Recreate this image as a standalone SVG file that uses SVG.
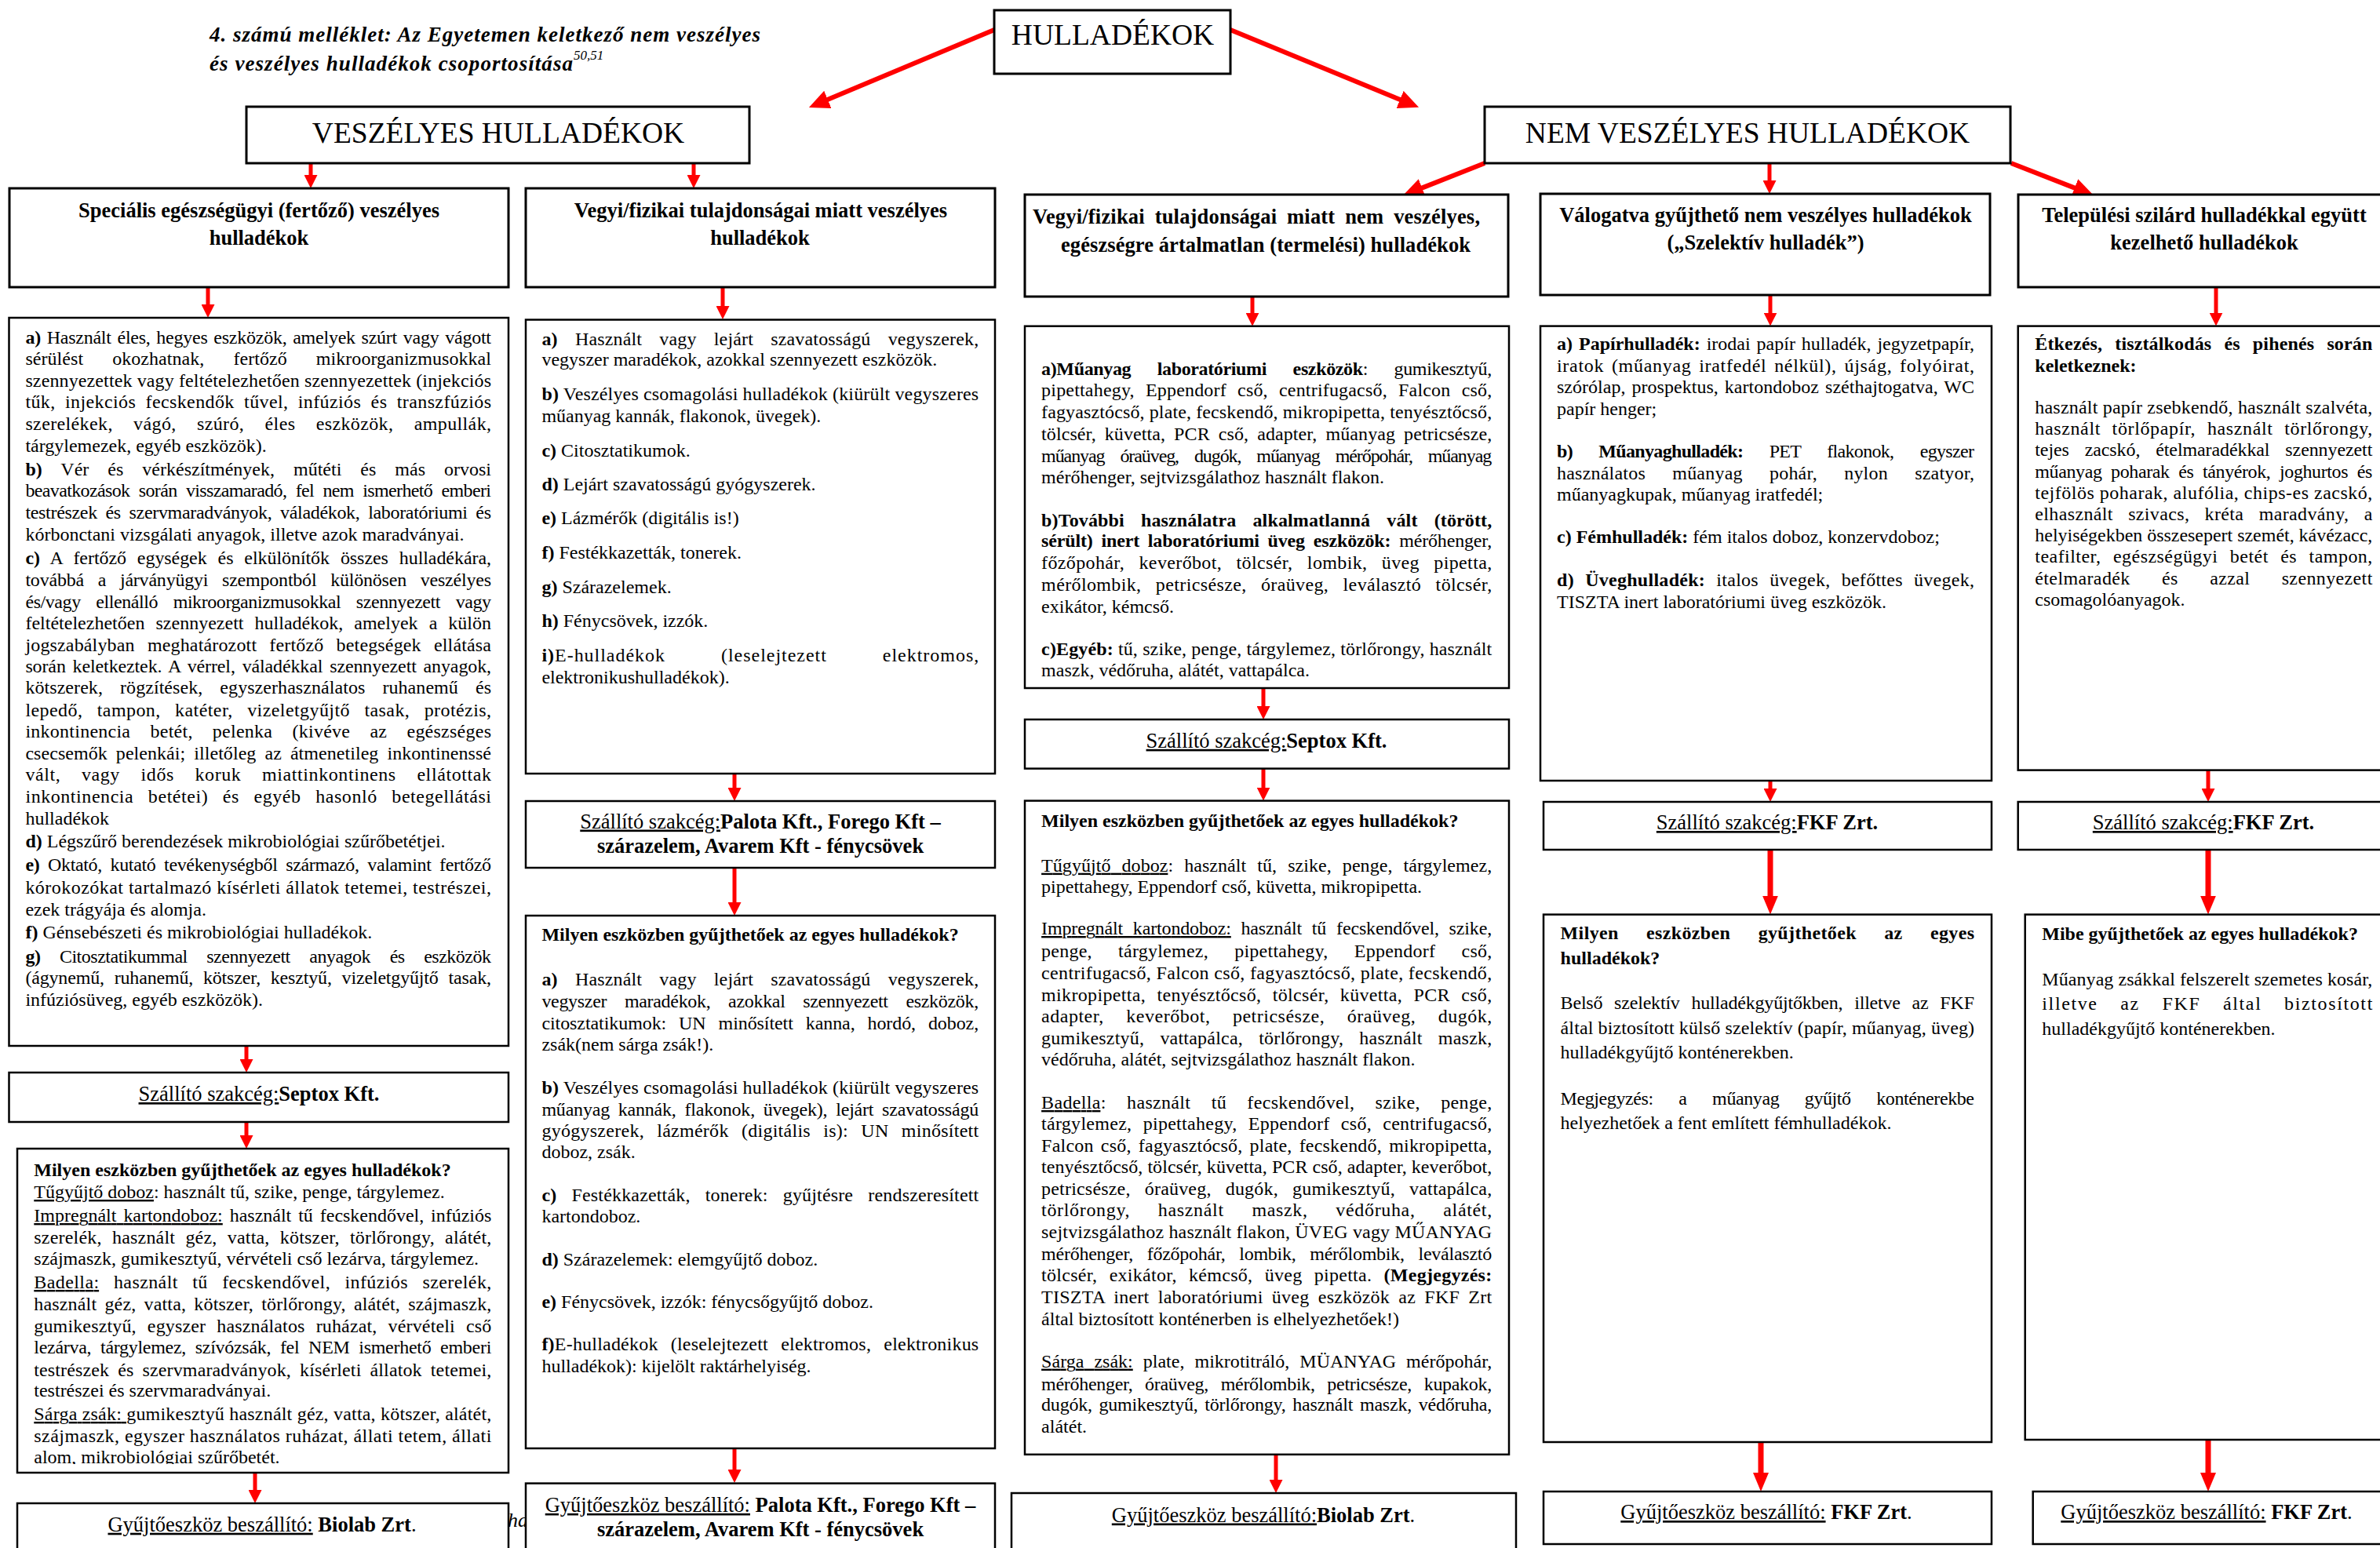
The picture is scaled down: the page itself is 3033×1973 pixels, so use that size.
<svg xmlns="http://www.w3.org/2000/svg" width="3033" height="1973" viewBox="0 0 3033 1973">
<style>
text{font-family:'Liberation Serif','Times New Roman',serif;font-size:24px;fill:#000}
.b{font-weight:bold}
.u{text-decoration:underline}
.m{text-anchor:middle}
.h1{font-size:37.5px}
.h2{font-size:26.5px;font-weight:bold}
.s{font-size:26.5px}
.ti{font-size:27px;font-weight:bold;font-style:italic}
rect.n{fill:#fff;stroke:#000;stroke-width:2.5}
rect.k{fill:#fff;stroke:#000;stroke-width:3}
.c line{stroke:#f00;fill:none}
.c1{stroke-width:5;marker-end:url(#ah)}
.c2{stroke-width:7;marker-end:url(#ahT)}
.c3{stroke-width:6;marker-end:url(#ahL)}
</style>
<defs>
<marker id="ah" markerUnits="userSpaceOnUse" markerWidth="17" markerHeight="17" refX="2" refY="8.5" orient="auto"><path d="M0,0 L17,8.5 L0,17 z" fill="#f00"/></marker>
<marker id="ahT" markerUnits="userSpaceOnUse" markerWidth="24" markerHeight="20" refX="3" refY="10" orient="auto"><path d="M0,0 L24,10 L0,20 z" fill="#f00"/></marker>
<marker id="ahL" markerUnits="userSpaceOnUse" markerWidth="26" markerHeight="24" refX="3" refY="12" orient="auto"><path d="M0,0 L26,12 L0,24 z" fill="#f00"/></marker>
<clipPath id="cm1"><rect x="0" y="1440" width="700" height="426"/></clipPath>
</defs>
<rect width="3033" height="1973" fill="#fff"/>

<g id="title">
<text class="ti" x="267" y="53" textLength="702" lengthAdjust="spacing">4. számú melléklet: Az Egyetemen keletkező nem veszélyes</text>
<text class="ti" x="267" y="90" textLength="463" lengthAdjust="spacing">és veszélyes hulladékok csoportosítása</text>
<text x="731" y="76" style="font-size:17px;font-style:italic">50,51</text>
</g>
<text x="647" y="1946" style="font-size:26px;font-style:italic">ha</text>

<g id="connectors" class="c">
<line class="c3" x1="1267" y1="38" x2="1052.1" y2="128"/>
<line class="c3" x1="1568" y1="38" x2="1786.8" y2="128.1"/>
<line class="c3" x1="1892" y1="208" x2="1809.4" y2="240.6"/>
<line class="c3" x1="2563" y1="208" x2="2646.6" y2="240.6"/>
<line class="c1" x1="396" y1="208" x2="396" y2="225"/>
<line class="c1" x1="884" y1="208" x2="884" y2="225"/>
<line class="c1" x1="2255" y1="208" x2="2255" y2="232"/>
<line class="c1" x1="265" y1="366" x2="265" y2="390"/>
<line class="c1" x1="314" y1="1333" x2="314" y2="1352"/>
<line class="c1" x1="314" y1="1430" x2="314" y2="1449"/>
<line class="c1" x1="325" y1="1877" x2="325" y2="1901"/>
<line class="c1" x1="921" y1="366" x2="921" y2="392"/>
<line class="c1" x1="936" y1="986" x2="936" y2="1006"/>
<line class="c1" x1="936" y1="1106" x2="936" y2="1152"/>
<line class="c1" x1="936" y1="1846" x2="936" y2="1875"/>
<line class="c1" x1="1596" y1="378" x2="1596" y2="400.7"/>
<line class="c1" x1="1610" y1="877" x2="1610" y2="902"/>
<line class="c1" x1="1610" y1="980" x2="1610" y2="1005.6"/>
<line class="c1" x1="1626" y1="1854" x2="1626" y2="1888"/>
<line class="c1" x1="2256" y1="376" x2="2256" y2="400.6"/>
<line class="c1" x1="2256" y1="995" x2="2256" y2="1007"/>
<line class="c2" x1="2256" y1="1083" x2="2256" y2="1144.6"/>
<line class="c2" x1="2244" y1="1838" x2="2244" y2="1880"/>
<line class="c1" x1="2824" y1="366" x2="2824" y2="400.6"/>
<line class="c1" x1="2814" y1="982" x2="2814" y2="1007"/>
<line class="c2" x1="2814" y1="1083" x2="2814" y2="1144.6"/>
<line class="c2" x1="2814" y1="1835" x2="2814" y2="1880"/>
</g>

<g id="hulladekok">
<rect class="k" x="1267" y="13" width="301" height="81"/>
<text class="h1 m" x="1418" y="57">HULLADÉKOK</text>
</g>
<g id="veszelyes">
<rect class="k" x="314" y="136" width="641" height="72"/>
<text class="h1 m" x="635" y="182">VESZÉLYES HULLADÉKOK</text>
</g>
<g id="nem-veszelyes">
<rect class="k" x="1892" y="136" width="670" height="72"/>
<text class="h1 m" x="2227" y="182">NEM VESZÉLYES HULLADÉKOK</text>
</g>

<g id="specialis">
<rect class="k" x="12" y="240" width="636" height="126"/>
<text class="h2 m" x="330" y="277">Speciális egészségügyi (fertőző) veszélyes</text>
<text class="h2 m" x="330" y="312">hulladékok</text>
</g>
<g id="vegyi-veszelyes">
<rect class="k" x="670" y="240" width="598" height="126"/>
<text class="h2 m" x="969.5" y="277">Vegyi/fizikai tulajdonságai miatt veszélyes</text>
<text class="h2 m" x="968.5" y="312">hulladékok</text>
</g>
<g id="vegyi-nem-veszelyes">
<rect class="k" x="1306" y="248" width="616" height="130"/>
<text class="h2" x="1316" y="285" textLength="570" lengthAdjust="spacing" style="word-spacing:6px">Vegyi/fizikai tulajdonságai miatt nem veszélyes,</text>
<text class="h2" x="1352" y="321" textLength="522" lengthAdjust="spacing">egészségre ártalmatlan (termelési) hulladékok</text>
</g>
<g id="valogatva">
<rect class="k" x="1963" y="247" width="573" height="129"/>
<text class="h2 m" x="2250" y="283">Válogatva gyűjthető nem veszélyes hulladékok</text>
<text class="h2 m" x="2250" y="318">(„Szelektív hulladék”)</text>
</g>
<g id="telepulesi">
<rect class="k" x="2572" y="248" width="470" height="118"/>
<text class="h2 m" x="2809" y="283">Települési szilárd hulladékkal együtt</text>
<text class="h2 m" x="2809" y="318">kezelhető hulladékok</text>
</g>

<g id="col1-tartalom">
<rect class="n" x="11.5" y="405" width="636.5" height="928"/>
<text x="32.4" y="437.6" textLength="593.6" lengthAdjust="spacing" style="word-spacing:2px"><tspan class="b">a)</tspan> Használt éles, hegyes eszközök, amelyek szúrt vagy vágott</text>
<text x="32.4" y="464.9" textLength="593.6" lengthAdjust="spacing" style="word-spacing:31px">sérülést okozhatnak, fertőző mikroorganizmusokkal</text>
<text x="32.4" y="492.6" textLength="593.6" lengthAdjust="spacing">szennyezettek vagy feltételezhetően szennyezettek (injekciós</text>
<text x="32.4" y="520.3" textLength="593.6" lengthAdjust="spacing" style="word-spacing:6px">tűk, injekciós fecskendők tűvel, infúziós és transzfúziós</text>
<text x="32.4" y="547.9" textLength="593.6" lengthAdjust="spacing" style="word-spacing:20px">szerelékek, vágó, szúró, éles eszközök, ampullák,</text>
<text x="32.4" y="575.6">tárgylemezek, egyéb eszközök).</text>
<text x="32.4" y="605.7" textLength="593.6" lengthAdjust="spacing" style="word-spacing:18px"><tspan class="b">b)</tspan> Vér és vérkészítmények, műtéti és más orvosi</text>
<text x="32.4" y="633" textLength="593.6" lengthAdjust="spacing" style="word-spacing:6px">beavatkozások során visszamaradó, fel nem ismerhető emberi</text>
<text x="32.4" y="660.6" textLength="593.6" lengthAdjust="spacing" style="word-spacing:5px">testrészek és szervmaradványok, váladékok, laboratóriumi és</text>
<text x="32.4" y="688.7">kórbonctani vizsgálati anyagok, illetve azok maradványai.</text>
<text x="32.4" y="719.1" textLength="593.6" lengthAdjust="spacing" style="word-spacing:8px"><tspan class="b">c)</tspan> A fertőző egységek és elkülönítők összes hulladékára,</text>
<text x="32.4" y="746.8" textLength="593.6" lengthAdjust="spacing" style="word-spacing:12px">továbbá a járványügyi szempontból különösen veszélyes</text>
<text x="32.4" y="774.5" textLength="593.6" lengthAdjust="spacing" style="word-spacing:14px">és/vagy ellenálló mikroorganizmusokkal szennyezett vagy</text>
<text x="32.4" y="802.2" textLength="593.6" lengthAdjust="spacing" style="word-spacing:8px">feltételezhetően szennyezett hulladékok, amelyek a külön</text>
<text x="32.4" y="829.9" textLength="593.6" lengthAdjust="spacing" style="word-spacing:10px">jogszabályban meghatározott fertőző betegségek ellátása</text>
<text x="32.4" y="856.8" textLength="593.6" lengthAdjust="spacing" style="word-spacing:3px">során keletkeztek. A vérrel, váladékkal szennyezett anyagok,</text>
<text x="32.4" y="884.4" textLength="593.6" lengthAdjust="spacing" style="word-spacing:16px">kötszerek, rögzítések, egyszerhasználatos ruhanemű és</text>
<text x="32.4" y="912.9" textLength="593.6" lengthAdjust="spacing" style="word-spacing:12px">lepedő, tampon, katéter, vizeletgyűjtő tasak, protézis,</text>
<text x="32.4" y="939.8" textLength="593.6" lengthAdjust="spacing" style="word-spacing:19px">inkontinencia betét, pelenka (kivéve az egészséges</text>
<text x="32.4" y="967.5" textLength="593.6" lengthAdjust="spacing" style="word-spacing:5px">csecsemők pelenkái; illetőleg az átmenetileg inkontinenssé</text>
<text x="32.4" y="995.2" textLength="593.6" lengthAdjust="spacing" style="word-spacing:20px">vált, vagy idős koruk miattinkontinens ellátottak</text>
<text x="32.4" y="1022.9" textLength="593.6" lengthAdjust="spacing" style="word-spacing:12px">inkontinencia betétei) és egyéb hasonló betegellátási</text>
<text x="32.4" y="1050.6">hulladékok</text>
<text x="32.4" y="1080.3"><tspan class="b">d)</tspan> Légszűrő berendezések mikrobiológiai szűrőbetétjei.</text>
<text x="32.4" y="1110.3" textLength="593.6" lengthAdjust="spacing" style="word-spacing:5px"><tspan class="b">e)</tspan> Oktató, kutató tevékenységből származó, valamint fertőző</text>
<text x="32.4" y="1138.7" textLength="593.6" lengthAdjust="spacing">kórokozókat tartalmazó kísérleti állatok tetemei, testrészei,</text>
<text x="32.4" y="1167">ezek trágyája és alomja.</text>
<text x="32.4" y="1196.3"><tspan class="b">f)</tspan> Génsebészeti és mikrobiológiai hulladékok.</text>
<text x="32.4" y="1227" textLength="593.6" lengthAdjust="spacing" style="word-spacing:19px"><tspan class="b">g)</tspan> Citosztatikummal szennyezett anyagok és eszközök</text>
<text x="32.4" y="1254.3" textLength="593.6" lengthAdjust="spacing" style="word-spacing:7px">(ágynemű, ruhanemű, kötszer, kesztyű, vizeletgyűjtő tasak,</text>
<text x="32.4" y="1282">infúziósüveg, egyéb eszközök).</text>
</g>
<g id="col1-szallito">
<rect class="n" x="11.5" y="1367" width="636.5" height="63"/>
<text class="s m" x="330" y="1403"><tspan class="u">Szállító szakcég:</tspan><tspan class="b">Septox Kft.</tspan></text>
</g>
<g id="col1-milyen">
<rect class="n" x="22" y="1464" width="626" height="413"/>
<text class="b" x="43.3" y="1498.7">Milyen eszközben gyűjthetőek az egyes hulladékok?</text>
<text x="43.3" y="1527"><tspan class="u">Tűgyűjtő doboz</tspan>: használt tű, szike, penge, tárgylemez.</text>
<text x="43.3" y="1557" textLength="583" lengthAdjust="spacing" style="word-spacing:3px"><tspan class="u">Impregnált kartondoboz:</tspan> használt tű fecskendővel, infúziós</text>
<text x="43.3" y="1584.7" textLength="583" lengthAdjust="spacing" style="word-spacing:7px">szerelék, használt géz, vatta, kötszer, törlőrongy, alátét,</text>
<text x="43.3" y="1612">szájmaszk, gumikesztyű, vérvételi cső lezárva, tárgylemez.</text>
<text x="43.3" y="1642" textLength="583" lengthAdjust="spacing" style="word-spacing:12px"><tspan class="u">Badella:</tspan> használt tű fecskendővel, infúziós szerelék,</text>
<text x="43.3" y="1670" textLength="583" lengthAdjust="spacing" style="word-spacing:4px">használt géz, vatta, kötszer, törlőrongy, alátét, szájmaszk,</text>
<text x="43.3" y="1698" textLength="583" lengthAdjust="spacing" style="word-spacing:8px">gumikesztyű, egyszer használatos ruházat, vérvételi cső</text>
<text x="43.3" y="1725" textLength="583" lengthAdjust="spacing" style="word-spacing:6px">lezárva, tárgylemez, szívózsák, fel NEM ismerhető emberi</text>
<text x="43.3" y="1754" textLength="583" lengthAdjust="spacing" style="word-spacing:5px">testrészek és szervmaradványok, kísérleti állatok tetemei,</text>
<text x="43.3" y="1780">testrészei és szervmaradványai.</text>
<text x="43.3" y="1810" textLength="583" lengthAdjust="spacing"><tspan class="u">Sárga zsák: </tspan>gumikesztyű használt géz, vatta, kötszer, alátét,</text>
<text x="43.3" y="1838" textLength="583" lengthAdjust="spacing">szájmaszk, egyszer használatos ruházat, állati tetem, állati</text>
<text x="43.3" y="1865" clip-path="url(#cm1)">alom, mikrobiológiai szűrőbetét.</text>
</g>
<g id="col1-gyujto">
<rect class="n" x="22" y="1916" width="626" height="80"/>
<text class="s m" x="334" y="1951.7"><tspan class="u">Gyűjtőeszköz beszállító:</tspan> <tspan class="b">Biolab Zrt</tspan>.</text>
</g>

<g id="col2-tartalom">
<rect class="n" x="670" y="407.5" width="598" height="578.5"/>
<text x="690.4" y="439.8" textLength="556.8" lengthAdjust="spacing" style="word-spacing:16px"><tspan class="b">a)</tspan> Használt vagy lejárt szavatosságú vegyszerek,</text>
<text x="690.4" y="466">vegyszer maradékok, azokkal szennyezett eszközök.</text>
<text x="690.4" y="510" textLength="556.8" lengthAdjust="spacing"><tspan class="b">b)</tspan> Veszélyes csomagolási hulladékok (kiürült vegyszeres</text>
<text x="690.4" y="537.6">műanyag kannák, flakonok, üvegek).</text>
<text x="690.4" y="582"><tspan class="b">c)</tspan> Citosztatikumok.</text>
<text x="690.4" y="624.8"><tspan class="b">d)</tspan> Lejárt szavatosságú gyógyszerek.</text>
<text x="690.4" y="668"><tspan class="b">e)</tspan> Lázmérők (digitális is!)</text>
<text x="690.4" y="712"><tspan class="b">f)</tspan> Festékkazetták, tonerek.</text>
<text x="690.4" y="755.7"><tspan class="b">g)</tspan> Szárazelemek.</text>
<text x="690.4" y="799.3"><tspan class="b">h)</tspan> Fénycsövek, izzók.</text>
<text x="690.4" y="843" textLength="556.8" lengthAdjust="spacing" style="word-spacing:64px"><tspan class="b">i)</tspan>E-hulladékok (leselejtezett elektromos,</text>
<text x="690.4" y="870.5">elektronikushulladékok).</text>
</g>
<g id="col2-szallito">
<rect class="n" x="670" y="1021" width="598" height="85"/>
<text class="s m" x="969" y="1055.5"><tspan class="u">Szállító szakcég:</tspan><tspan class="b">Palota Kft., Forego Kft –</tspan></text>
<text class="s m b" x="969" y="1087">szárazelem, Avarem Kft - fénycsövek</text>
</g>
<g id="col2-milyen">
<rect class="n" x="670" y="1167" width="598" height="679"/>
<text class="b" x="690.4" y="1198.9">Milyen eszközben gyűjthetőek az egyes hulladékok?</text>
<text x="690.4" y="1256.2" textLength="556.8" lengthAdjust="spacing" style="word-spacing:16px"><tspan class="b">a)</tspan> Használt vagy lejárt szavatosságú vegyszerek,</text>
<text x="690.4" y="1284" textLength="556.8" lengthAdjust="spacing" style="word-spacing:17px">vegyszer maradékok, azokkal szennyezett eszközök,</text>
<text x="690.4" y="1312" textLength="556.8" lengthAdjust="spacing" style="word-spacing:10px">citosztatikumok: UN minősített kanna, hordó, doboz,</text>
<text x="690.4" y="1339">zsák(nem sárga zsák!).</text>
<text x="690.4" y="1393.7" textLength="556.8" lengthAdjust="spacing"><tspan class="b">b)</tspan> Veszélyes csomagolási hulladékok (kiürült vegyszeres</text>
<text x="690.4" y="1421.6" textLength="556.8" lengthAdjust="spacing" style="word-spacing:5px">műanyag kannák, flakonok, üvegek), lejárt szavatosságú</text>
<text x="690.4" y="1448.9" textLength="556.8" lengthAdjust="spacing" style="word-spacing:10px">gyógyszerek, lázmérők (digitális is): UN minősített</text>
<text x="690.4" y="1476">doboz, zsák.</text>
<text x="690.4" y="1531.3" textLength="556.8" lengthAdjust="spacing" style="word-spacing:13px"><tspan class="b">c)</tspan> Festékkazetták, tonerek: gyűjtésre rendszeresített</text>
<text x="690.4" y="1558">kartondoboz.</text>
<text x="690.4" y="1612.6"><tspan class="b">d)</tspan> Szárazelemek: elemgyűjtő doboz.</text>
<text x="690.4" y="1666.6"><tspan class="b">e)</tspan> Fénycsövek, izzók: fénycsőgyűjtő doboz.</text>
<text x="690.4" y="1721" textLength="556.8" lengthAdjust="spacing" style="word-spacing:10px"><tspan class="b">f)</tspan>E-hulladékok (leselejtezett elektromos, elektronikus</text>
<text x="690.4" y="1749">hulladékok): kijelölt raktárhelyiség.</text>
</g>
<g id="col2-gyujto">
<rect class="n" x="670" y="1890.6" width="598" height="100"/>
<text class="s m" x="969" y="1926.8"><tspan class="u">Gyűjtőeszköz beszállító:</tspan> <tspan class="b">Palota Kft., Forego Kft –</tspan></text>
<text class="s m b" x="969" y="1957.5">szárazelem, Avarem Kft - fénycsövek</text>
</g>

<g id="col3-tartalom">
<rect class="n" x="1306" y="415.7" width="617" height="461.3"/>
<text x="1327.1" y="477.6" textLength="574.1" lengthAdjust="spacing" style="word-spacing:28px"><tspan class="b">a)Műanyag laboratóriumi eszközök</tspan>: gumikesztyű,</text>
<text x="1327.1" y="505.3" textLength="574.1" lengthAdjust="spacing" style="word-spacing:8px">pipettahegy, Eppendorf cső, centrifugacső, Falcon cső,</text>
<text x="1327.1" y="533.4" textLength="574.1" lengthAdjust="spacing">fagyasztócső, plate, fecskendő, mikropipetta, tenyésztőcső,</text>
<text x="1327.1" y="561" textLength="574.1" lengthAdjust="spacing" style="word-spacing:5px">tölcsér, küvetta, PCR cső, adapter, műanyag petricsésze,</text>
<text x="1327.1" y="589" textLength="574.1" lengthAdjust="spacing" style="word-spacing:15px">műanyag óraüveg, dugók, műanyag mérőpohár, műanyag</text>
<text x="1327.1" y="616">mérőhenger, sejtvizsgálathoz használt flakon.</text>
<text class="b" x="1327.1" y="670.5" textLength="574.1" lengthAdjust="spacing" style="word-spacing:15px">b)További használatra alkalmatlanná vált (törött,</text>
<text x="1327.1" y="697" textLength="574.1" lengthAdjust="spacing" style="word-spacing:5px"><tspan class="b">sérült) inert laboratóriumi üveg eszközök:</tspan> mérőhenger,</text>
<text x="1327.1" y="725.4" textLength="574.1" lengthAdjust="spacing" style="word-spacing:12px">főzőpohár, keverőbot, tölcsér, lombik, üveg pipetta,</text>
<text x="1327.1" y="753" textLength="574.1" lengthAdjust="spacing" style="word-spacing:12px">mérőlombik, petricsésze, óraüveg, leválasztó tölcsér,</text>
<text x="1327.1" y="780.8">exikátor, kémcső.</text>
<text x="1327.1" y="834.8" textLength="574.1" lengthAdjust="spacing"><tspan class="b">c)Egyéb:</tspan> tű, szike, penge, tárgylemez, törlőrongy, használt</text>
<text x="1327.1" y="862.4">maszk, védőruha, alátét, vattapálca.</text>
</g>
<g id="col3-szallito">
<rect class="n" x="1306" y="917" width="617" height="62.6"/>
<text class="s m" x="1614" y="952.8"><tspan class="u">Szállító szakcég:</tspan><tspan class="b">Septox Kft.</tspan></text>
</g>
<g id="col3-milyen">
<rect class="n" x="1306" y="1020.6" width="617" height="833.2"/>
<text class="b" x="1327.1" y="1053.5">Milyen eszközben gyűjthetőek az egyes hulladékok?</text>
<text x="1327.1" y="1110.7" textLength="574.1" lengthAdjust="spacing" style="word-spacing:8px"><tspan class="u">Tűgyűjtő doboz</tspan>: használt tű, szike, penge, tárgylemez,</text>
<text x="1327.1" y="1138">pipettahegy, Eppendorf cső, küvetta, mikropipetta.</text>
<text x="1327.1" y="1191" textLength="574.1" lengthAdjust="spacing" style="word-spacing:7px"><tspan class="u">Impregnált kartondoboz:</tspan> használt tű fecskendővel, szike,</text>
<text x="1327.1" y="1220" textLength="574.1" lengthAdjust="spacing" style="word-spacing:27px">penge, tárgylemez, pipettahegy, Eppendorf cső,</text>
<text x="1327.1" y="1248" textLength="574.1" lengthAdjust="spacing">centrifugacső, Falcon cső, fagyasztócső, plate, fecskendő,</text>
<text x="1327.1" y="1275.5" textLength="574.1" lengthAdjust="spacing" style="word-spacing:8px">mikropipetta, tenyésztőcső, tölcsér, küvetta, PCR cső,</text>
<text x="1327.1" y="1303" textLength="574.1" lengthAdjust="spacing" style="word-spacing:22px">adapter, keverőbot, petricsésze, óraüveg, dugók,</text>
<text x="1327.1" y="1330.8" textLength="574.1" lengthAdjust="spacing" style="word-spacing:14px">gumikesztyű, vattapálca, törlőrongy, használt maszk,</text>
<text x="1327.1" y="1357.6">védőruha, alátét, sejtvizsgálathoz használt flakon.</text>
<text x="1327.1" y="1413" textLength="574.1" lengthAdjust="spacing" style="word-spacing:20px"><tspan class="u">Badella</tspan>: használt tű fecskendővel, szike, penge,</text>
<text x="1327.1" y="1439.7" textLength="574.1" lengthAdjust="spacing" style="word-spacing:8px">tárgylemez, pipettahegy, Eppendorf cső, centrifugacső,</text>
<text x="1327.1" y="1467.7" textLength="574.1" lengthAdjust="spacing" style="word-spacing:3px">Falcon cső, fagyasztócső, plate, fecskendő, mikropipetta,</text>
<text x="1327.1" y="1495" textLength="574.1" lengthAdjust="spacing">tenyésztőcső, tölcsér, küvetta, PCR cső, adapter, keverőbot,</text>
<text x="1327.1" y="1523" textLength="574.1" lengthAdjust="spacing" style="word-spacing:12px">petricsésze, óraüveg, dugók, gumikesztyű, vattapálca,</text>
<text x="1327.1" y="1550.4" textLength="574.1" lengthAdjust="spacing" style="word-spacing:29px">törlőrongy, használt maszk, védőruha, alátét,</text>
<text x="1327.1" y="1578.4" textLength="574.1" lengthAdjust="spacing">sejtvizsgálathoz használt flakon, ÜVEG vagy MŰANYAG</text>
<text x="1327.1" y="1605.7" textLength="574.1" lengthAdjust="spacing" style="word-spacing:12px">mérőhenger, főzőpohár, lombik, mérőlombik, leválasztó</text>
<text x="1327.1" y="1633" textLength="574.1" lengthAdjust="spacing" style="word-spacing:9px">tölcsér, exikátor, kémcső, üveg pipetta. <tspan class="b">(Megjegyzés:</tspan></text>
<text x="1327.1" y="1661" textLength="574.1" lengthAdjust="spacing" style="word-spacing:5px">TISZTA inert laboratóriumi üveg eszközök az FKF Zrt</text>
<text x="1327.1" y="1689">által biztosított konténerben is elhelyezhetőek!)</text>
<text x="1327.1" y="1742.6" textLength="574.1" lengthAdjust="spacing" style="word-spacing:7px"><tspan class="u">Sárga zsák:</tspan> plate, mikrotitráló, MÜANYAG mérőpohár,</text>
<text x="1327.1" y="1771.7" textLength="574.1" lengthAdjust="spacing" style="word-spacing:10px">mérőhenger, óraüveg, mérőlombik, petricsésze, kupakok,</text>
<text x="1327.1" y="1798" textLength="574.1" lengthAdjust="spacing" style="word-spacing:3px">dugók, gumikesztyű, törlőrongy, használt maszk, védőruha,</text>
<text x="1327.1" y="1826">alátét.</text>
</g>
<g id="col3-gyujto">
<rect class="n" x="1289" y="1903" width="643" height="100"/>
<text class="s m" x="1610" y="1939.5"><tspan class="u">Gyűjtőeszköz beszállító:</tspan><tspan class="b">Biolab Zrt</tspan>.</text>
</g>

<g id="col4-tartalom">
<rect class="n" x="1963" y="415.6" width="575" height="579.4"/>
<text x="1984" y="446" textLength="532" lengthAdjust="spacing" style="word-spacing:2px"><tspan class="b">a) Papírhulladék:</tspan> irodai papír hulladék, jegyzetpapír,</text>
<text x="1984" y="473.5" textLength="532" lengthAdjust="spacing" style="word-spacing:3px">iratok (műanyag iratfedél nélkül), újság, folyóirat,</text>
<text x="1984" y="501" textLength="532" lengthAdjust="spacing" style="word-spacing:2px">szórólap, prospektus, kartondoboz széthajtogatva, WC</text>
<text x="1984" y="528.5">papír henger;</text>
<text x="1984" y="583" textLength="532" lengthAdjust="spacing" style="word-spacing:28px"><tspan class="b">b) Műanyaghulladék:</tspan> PET flakonok, egyszer</text>
<text x="1984" y="610.5" textLength="532" lengthAdjust="spacing" style="word-spacing:28px">használatos műanyag pohár, nylon szatyor,</text>
<text x="1984" y="638">műanyagkupak, műanyag iratfedél;</text>
<text x="1984" y="692"><tspan class="b">c) Fémhulladék:</tspan> fém italos doboz, konzervdoboz;</text>
<text x="1984" y="746.5" textLength="532" lengthAdjust="spacing" style="word-spacing:8px"><tspan class="b">d) Üveghulladék:</tspan> italos üvegek, befőttes üvegek,</text>
<text x="1984" y="775">TISZTA inert laboratóriumi üveg eszközök.</text>
</g>
<g id="col4-szallito">
<rect class="n" x="1967" y="1022" width="571" height="61"/>
<text class="s m" x="2252" y="1057"><tspan class="u">Szállító szakcég:</tspan><tspan class="b">FKF Zrt.</tspan></text>
</g>
<g id="col4-milyen">
<rect class="n" x="1967" y="1165.6" width="571" height="672.4"/>
<text class="b" x="1988.6" y="1197" textLength="527.4" lengthAdjust="spacing" style="word-spacing:29px">Milyen eszközben gyűjthetőek az egyes</text>
<text class="b" x="1988.6" y="1228.5">hulladékok?</text>
<text x="1988.6" y="1286.4" textLength="527.4" lengthAdjust="spacing" style="word-spacing:9px">Belső szelektív hulladékgyűjtőkben, illetve az FKF</text>
<text x="1988.6" y="1317.5" textLength="527.4" lengthAdjust="spacing">által biztosított külső szelektív (papír, műanyag, üveg)</text>
<text x="1988.6" y="1349">hulladékgyűjtő konténerekben.</text>
<text x="1988.6" y="1408" textLength="527.4" lengthAdjust="spacing" style="word-spacing:27px">Megjegyzés: a műanyag gyűjtő konténerekbe</text>
<text x="1988.6" y="1439">helyezhetőek a fent említett fémhulladékok.</text>
</g>
<g id="col4-gyujto">
<rect class="n" x="1967" y="1901" width="571" height="67"/>
<text class="s m" x="2251" y="1936"><tspan class="u">Gyűjtőeszköz beszállító:</tspan> <tspan class="b">FKF Zrt</tspan>.</text>
</g>

<g id="col5-tartalom">
<rect class="n" x="2571.7" y="415.6" width="470" height="566"/>
<text class="b" x="2593.3" y="446" textLength="430" lengthAdjust="spacing" style="word-spacing:10px">Étkezés, tisztálkodás és pihenés során</text>
<text class="b" x="2593.3" y="474.4">keletkeznek:</text>
<text x="2593.3" y="527" textLength="430" lengthAdjust="spacing">használt papír zsebkendő, használt szalvéta,</text>
<text x="2593.3" y="554.2" textLength="430" lengthAdjust="spacing" style="word-spacing:8px">használt törlőpapír, használt törlőrongy,</text>
<text x="2593.3" y="581.4" textLength="430" lengthAdjust="spacing" style="word-spacing:14px">tejes zacskó, ételmaradékkal szennyezett</text>
<text x="2593.3" y="608.6" textLength="430" lengthAdjust="spacing" style="word-spacing:6px">műanyag poharak és tányérok, joghurtos és</text>
<text x="2593.3" y="635.8" textLength="430" lengthAdjust="spacing">tejfölös poharak, alufólia, chips-es zacskó,</text>
<text x="2593.3" y="663" textLength="430" lengthAdjust="spacing" style="word-spacing:13px">elhasznált szivacs, kréta maradvány, a</text>
<text x="2593.3" y="690.2" textLength="430" lengthAdjust="spacing">helyiségekben összesepert szemét, kávézacc,</text>
<text x="2593.3" y="717.4" textLength="430" lengthAdjust="spacing" style="word-spacing:9px">teafilter, egészségügyi betét és tampon,</text>
<text x="2593.3" y="744.6" textLength="430" lengthAdjust="spacing" style="word-spacing:34px">ételmaradék és azzal szennyezett</text>
<text x="2593.3" y="771.8">csomagolóanyagok.</text>
</g>
<g id="col5-szallito">
<rect class="n" x="2571.7" y="1022" width="470" height="61"/>
<text class="s m" x="2808" y="1057"><tspan class="u">Szállító szakcég:</tspan><tspan class="b">FKF Zrt.</tspan></text>
</g>
<g id="col5-mibe">
<rect class="n" x="2580.7" y="1165.6" width="460" height="669.4"/>
<text class="b" x="2602.3" y="1198">Mibe gyűjthetőek az egyes hulladékok?</text>
<text x="2602.3" y="1256" textLength="421" lengthAdjust="spacing">Műanyag zsákkal felszerelt szemetes kosár,</text>
<text x="2602.3" y="1287.4" textLength="421" lengthAdjust="spacing" style="word-spacing:21px">illetve az FKF által biztosított</text>
<text x="2602.3" y="1319">hulladékgyűjtő konténerekben.</text>
</g>
<g id="col5-gyujto">
<rect class="n" x="2590.7" y="1901" width="450" height="67"/>
<text class="s m" x="2812" y="1936"><tspan class="u">Gyűjtőeszköz beszállító:</tspan> <tspan class="b">FKF Zrt</tspan>.</text>
</g>
</svg>
